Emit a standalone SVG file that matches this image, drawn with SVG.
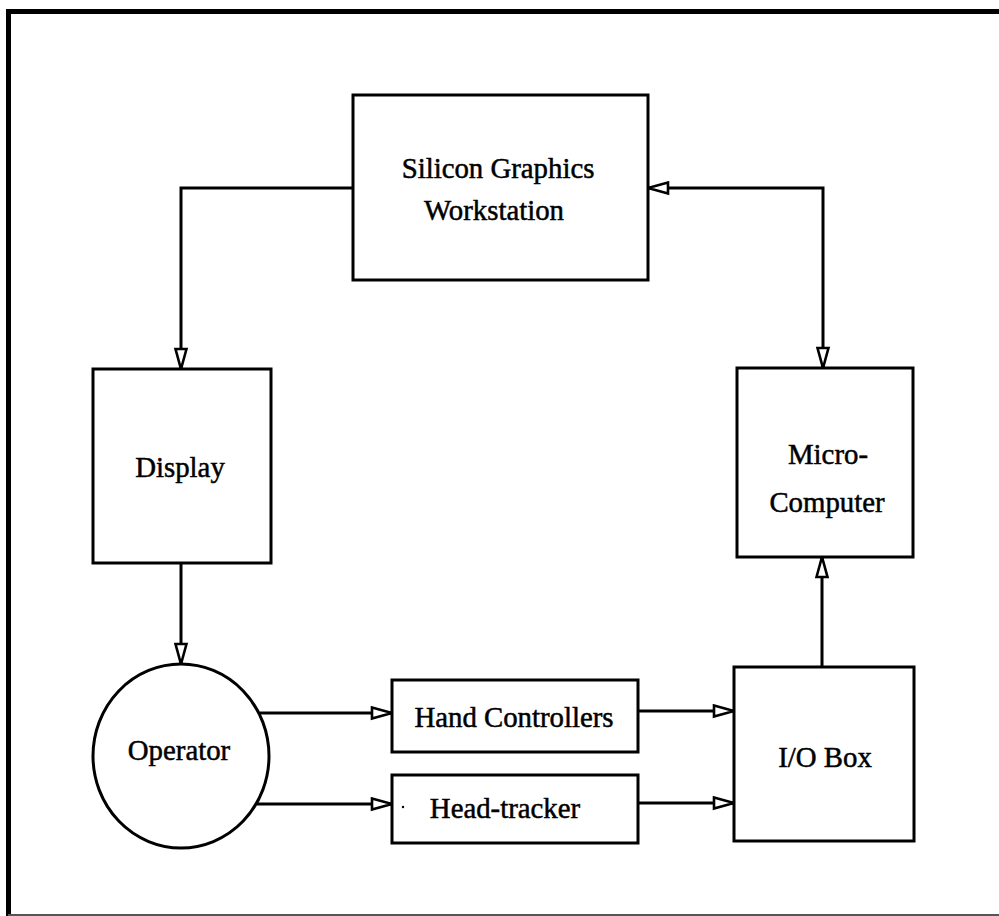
<svg xmlns="http://www.w3.org/2000/svg" width="999" height="916" viewBox="0 0 999 916">
  <style>
    .box { fill: #fff; stroke: #000; stroke-width: 3; }
    .lbl { font-family: 'Liberation Serif', 'Times New Roman', serif; font-size: 28.8px; fill: #000; text-anchor: middle; stroke: #000; stroke-width: 0.5; }
    .wire { fill: none; stroke: #000; stroke-width: 3; }
  </style>
  <defs>
    <marker id="arrow" viewBox="-2 -2 24 15" refX="20" refY="5.5" markerWidth="24" markerHeight="15" markerUnits="userSpaceOnUse" orient="auto-start-reverse">
      <path d="M0,0 L20,5.5 L0,11 Z" fill="#fff" stroke="#000" stroke-width="2.6" stroke-linejoin="miter"/>
    </marker>
  </defs>

  <rect width="999" height="916" fill="#fff"/>

  <!-- frame -->
  <g id="frame" stroke="#000" fill="none">
    <line x1="8.5" y1="9" x2="8.5" y2="916" stroke-width="5"/>
    <line x1="6" y1="11.5" x2="999" y2="11.5" stroke-width="5"/>
    <line x1="8" y1="915" x2="999" y2="915" stroke-width="2" stroke="#555"/>
  </g>

  <!-- connectors -->
  <g id="connectors" class="wire">
    <path d="M353,188 H181 V369" marker-end="url(#arrow)"/>
    <path d="M648,188 H823 V368" marker-start="url(#arrow)" marker-end="url(#arrow)"/>
    <path d="M181,563 V664" marker-end="url(#arrow)"/>
    <path d="M260,713 H392" marker-end="url(#arrow)"/>
    <path d="M257,804 H392" marker-end="url(#arrow)"/>
    <path d="M638,711 H734" marker-end="url(#arrow)"/>
    <path d="M638,803 H734" marker-end="url(#arrow)"/>
    <path d="M822,667 V557" marker-end="url(#arrow)"/>
  </g>

  <g id="workstation">
    <rect class="box" x="353" y="95" width="295" height="185"/>
    <text class="lbl" x="498" y="178">Silicon Graphics</text>
    <text class="lbl" x="494" y="220">Workstation</text>
  </g>

  <g id="display">
    <rect class="box" x="93" y="369" width="178" height="194"/>
    <text class="lbl" x="180" y="477">Display</text>
  </g>

  <g id="microcomputer">
    <rect class="box" x="737" y="368" width="176" height="189"/>
    <text class="lbl" x="828" y="464">Micro-</text>
    <text class="lbl" x="827" y="512">Computer</text>
  </g>

  <g id="operator">
    <ellipse class="box" cx="181" cy="756" rx="88" ry="92"/>
    <text class="lbl" x="179" y="760">Operator</text>
  </g>

  <g id="hand-controllers">
    <rect class="box" x="392" y="680" width="246" height="72"/>
    <text class="lbl" x="514" y="727">Hand Controllers</text>
  </g>

  <g id="head-tracker">
    <rect class="box" x="392" y="775" width="246" height="68"/>
    <circle cx="403" cy="807" r="1.2" fill="#000"/>
    <text class="lbl" x="505" y="818">Head-tracker</text>
  </g>

  <g id="io-box">
    <rect class="box" x="734" y="667" width="180" height="174"/>
    <text class="lbl" x="825" y="767">I/O Box</text>
  </g>
</svg>
